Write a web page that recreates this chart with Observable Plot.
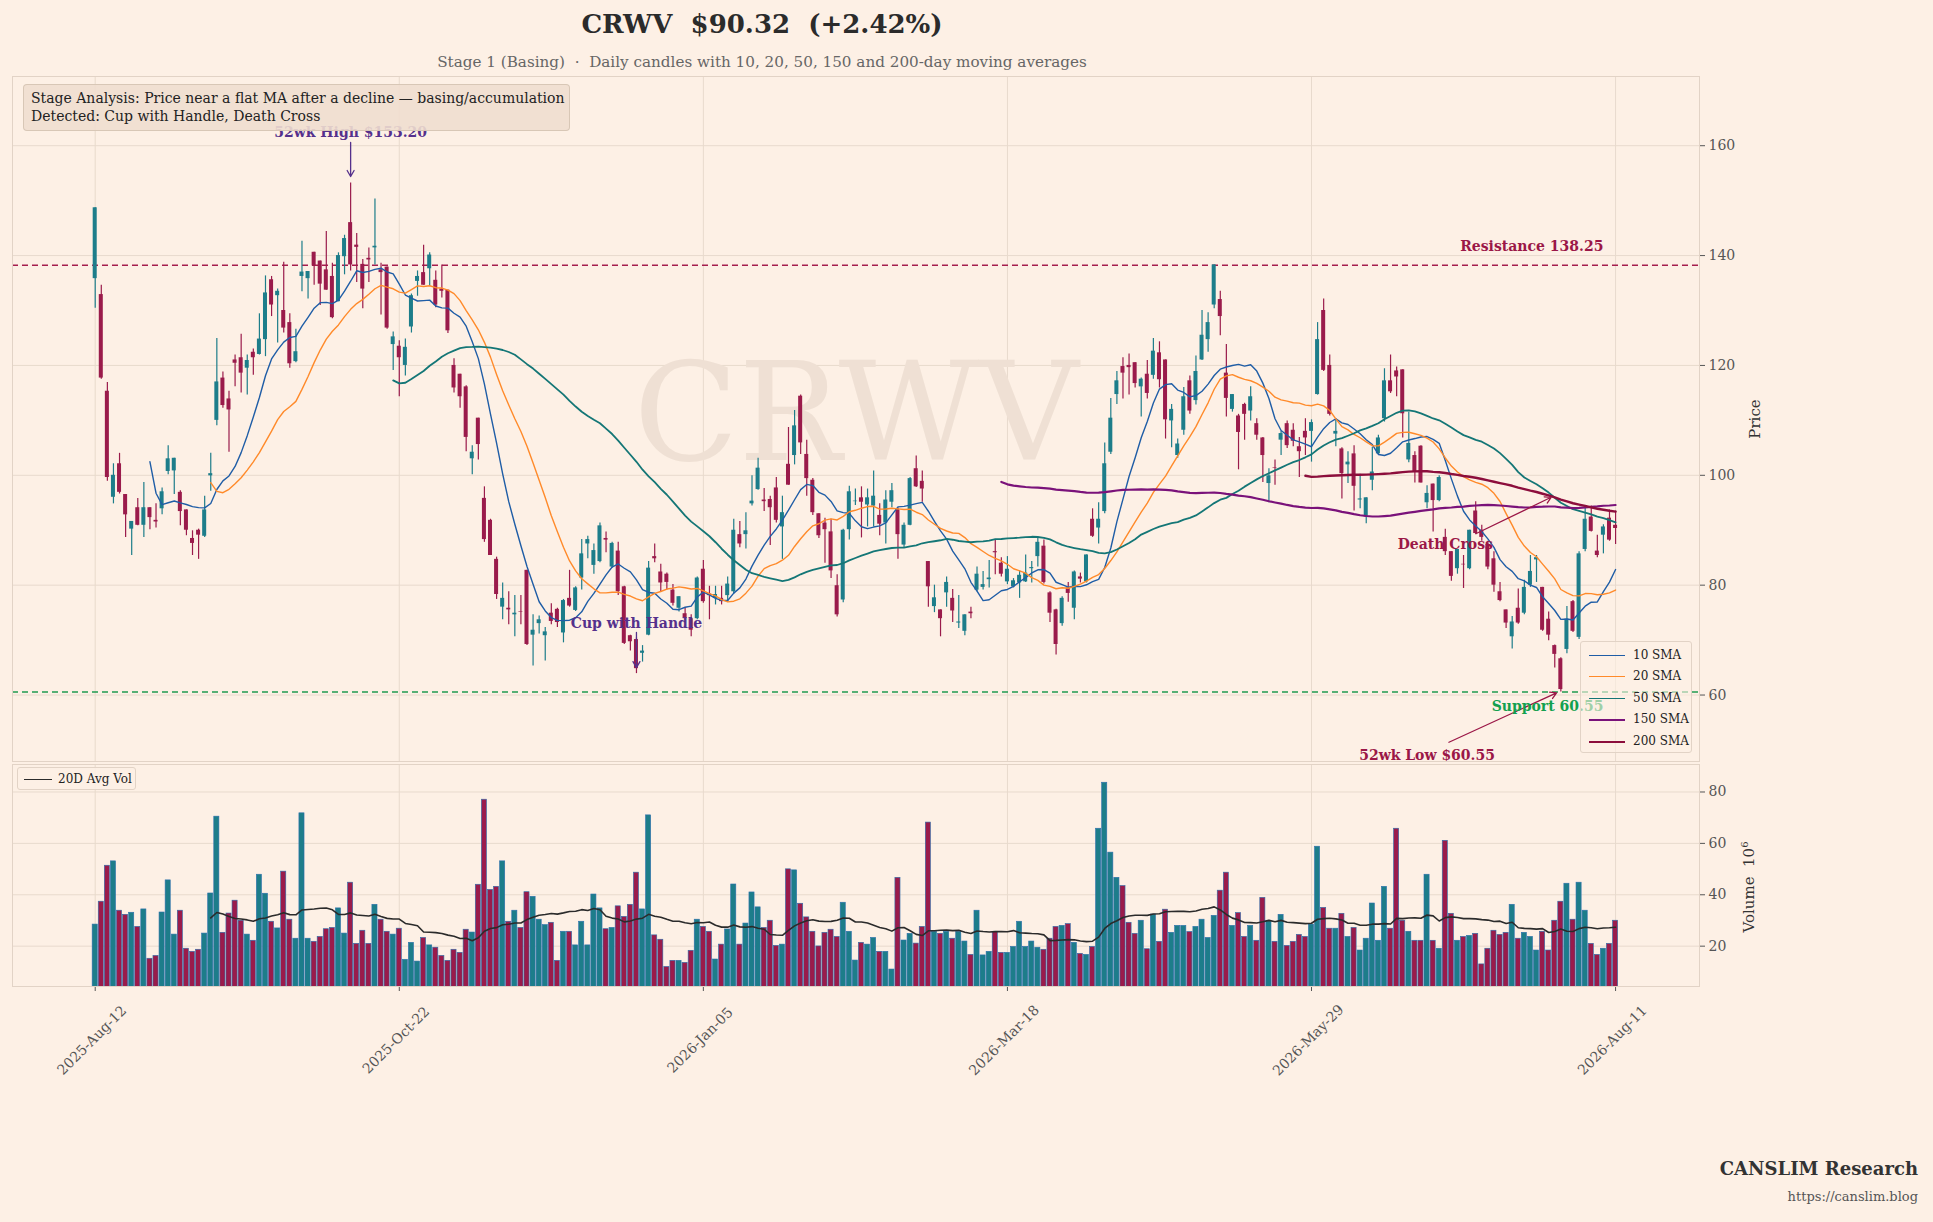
<!DOCTYPE html>
<html><head><meta charset="utf-8">
<script src="https://cdn.jsdelivr.net/npm/d3@7"></script>
<script src="https://cdn.jsdelivr.net/npm/@observablehq/plot@0.6"></script>
<style>
html,body{margin:0;padding:0;background:#fdf0e5;}
#root{position:relative;width:1933px;height:1222px;background:#fdf0e5;font-family:Georgia,"DejaVu Serif",serif;overflow:hidden;}
.abs{position:absolute;white-space:nowrap;}
.svgwrap{position:absolute;left:0;}
.legend{position:absolute;background:rgba(253,240,229,0.6);border:1px solid #e2d3c6;border-radius:3px;box-sizing:border-box;}
.lrow{position:absolute;left:0;right:0;height:20px;}
.lrow .sw{position:absolute;left:8px;width:36px;top:10px;}
.lrow .lt{position:absolute;left:52px;top:2px;font-size:12px;color:#222;line-height:16px;}
</style></head><body><div id="root"></div>
<script>
// ---------------- DATA ----------------
const OPEN = [135.8,132.9,115.3,96.0,102.1,96.5,90.2,94.1,90.9,94.1,
91.8,93.9,100.7,100.8,96.9,93.7,88.5,90.0,88.9,99.9,
110.0,117.7,113.9,121.0,121.4,119.5,122.4,122.0,124.7,135.6,
132.7,130.0,127.8,120.7,136.2,135.8,140.6,139.0,137.4,136.2,
131.6,139.8,146.0,141.9,138.4,139.5,141.4,137.4,137.9,123.8,
123.5,120.0,127.0,135.3,136.9,137.6,135.5,133.9,133.7,120.0,
118.4,116.1,103.0,110.4,95.8,91.8,84.7,76.0,75.8,74.6,
75.2,82.7,70.9,73.0,70.8,74.9,75.6,71.3,77.6,75.4,
81.3,87.5,83.6,84.3,88.5,83.3,86.2,79.7,70.8,70.1,
67.6,70.9,85.2,82.4,82.0,79.1,75.8,74.8,73.9,73.9,
82.9,78.4,77.6,77.6,78.1,78.8,89.2,89.2,94.8,97.4,
95.5,95.6,97.7,90.6,102.0,103.6,114.4,103.8,99.1,93.0,
91.3,89.7,79.9,77.3,90.1,95.2,95.9,94.6,94.4,92.7,
91.3,95.1,93.7,87.3,90.9,101.2,98.9,84.3,76.1,75.5,
78.6,77.6,73.1,71.6,75.1,79.1,79.6,81.0,86.1,84.0,
80.6,79.7,80.4,80.6,83.0,85.2,87.1,78.6,75.5,73.0,
79.5,75.8,81.5,80.6,92.0,90.4,93.4,104.2,114.7,119.8,
120.0,120.5,116.1,118.4,118.2,122.3,121.0,109.9,103.6,108.2,
117.2,113.6,121.0,124.7,131.0,132.0,118.6,112.0,110.8,112.9,
111.7,109.4,106.8,98.5,101.4,106.4,109.4,108.2,105.2,108.0,
108.0,114.7,130.0,120.0,107.5,104.8,101.9,103.9,95.5,92.4,
99.1,103.9,110.3,117.2,119.0,119.2,102.8,103.6,105.3,95.0,
98.4,95.4,88.7,86.1,83.0,83.8,83.0,93.5,90.0,87.4,
84.8,78.8,75.5,70.6,75.8,74.9,80.0,84.6,79.6,73.8,
69.0,66.6,68.3,77.0,70.5,86.5,92.4,86.2,89.1,92.2,
90.9];
const HIGH = [148.7,134.6,116.9,102.1,104.0,96.5,91.6,95.8,98.7,94.1,
94.8,97.7,105.4,103.1,97.2,93.7,89.9,90.2,96.2,104.0,
124.9,118.8,115.3,121.9,125.7,121.9,123.0,129.4,136.3,136.2,
133.9,138.8,129.4,126.6,142.6,137.1,140.6,139.0,144.4,138.6,
140.5,143.7,153.2,144.0,139.3,141.4,150.3,138.6,137.9,126.1,
124.5,124.8,133.0,137.2,141.9,140.5,137.2,138.3,133.7,121.2,
118.4,116.3,105.4,110.4,97.9,92.0,85.1,80.4,78.8,78.1,
78.1,82.7,74.6,74.4,72.3,76.6,75.8,77.4,82.7,79.7,
88.3,88.9,87.5,91.3,89.7,87.8,87.8,79.8,70.9,70.4,
69.0,84.3,87.5,83.8,82.2,80.1,77.9,75.9,74.6,81.5,
84.5,79.8,79.8,79.8,81.5,92.0,91.6,93.2,99.9,103.1,
97.6,96.2,99.6,96.2,108.7,111.8,114.6,106.4,99.4,93.0,
92.2,92.0,81.9,90.2,98.0,97.5,97.9,97.5,100.8,94.8,
97.2,98.5,94.1,91.3,99.6,103.5,100.8,84.3,80.0,75.5,
81.5,79.2,78.1,74.6,76.0,83.3,82.5,84.5,88.3,85.0,
85.2,81.2,82.6,85.5,84.3,88.5,88.2,78.8,75.6,77.9,
80.5,82.6,82.2,85.5,93.9,95.0,105.9,114.0,118.9,121.4,
122.1,120.5,117.7,120.9,124.9,124.3,121.0,112.9,106.6,116.0,
118.1,121.7,130.0,129.6,138.3,133.5,123.8,114.7,111.1,113.1,
116.1,110.3,106.9,101.2,102.8,108.0,109.9,109.4,106.9,110.3,
110.1,127.8,132.1,121.9,110.3,105.0,104.3,105.4,100.2,95.9,
105.1,107.3,119.4,121.9,119.7,119.2,111.5,104.3,105.4,98.1,
98.4,99.9,90.2,86.1,86.5,85.4,90.0,95.2,90.9,88.0,
86.1,80.5,75.5,74.3,79.3,80.9,85.4,85.4,79.6,75.1,
69.1,66.8,76.1,77.2,86.1,94.3,94.4,89.1,91.0,93.7,
93.5];
const LOW = [130.4,117.5,98.9,94.8,96.6,88.7,85.4,90.8,88.7,90.1,
90.4,92.8,100.1,96.5,90.8,89.0,85.4,84.7,88.7,97.1,
109.0,112.2,104.2,116.1,115.0,114.6,118.2,121.9,121.6,128.9,
124.1,125.9,119.5,120.5,133.4,132.1,134.6,130.9,133.7,128.5,
131.6,136.5,137.2,135.1,130.3,135.1,138.3,129.2,126.6,119.1,
114.3,118.1,125.9,132.6,134.6,134.4,130.5,132.3,125.8,115.0,
112.2,104.3,100.1,102.8,87.8,85.4,77.4,73.7,72.8,70.6,
72.8,69.0,65.3,71.1,66.2,72.8,72.3,69.5,76.0,75.2,
79.1,84.8,82.0,84.1,85.9,83.1,78.1,69.2,68.0,63.9,
66.0,70.8,84.1,78.8,79.1,76.2,75.1,73.5,70.6,73.7,
76.7,73.7,76.4,76.4,76.9,78.4,86.8,86.6,94.4,97.3,
93.4,87.2,91.3,84.7,98.2,101.9,103.8,96.2,92.7,88.5,
84.0,81.2,74.2,76.8,88.2,94.5,88.6,90.6,90.6,89.0,
87.5,94.1,84.7,86.8,90.8,97.8,95.1,76.0,75.0,70.6,
76.0,73.2,72.1,70.8,73.9,78.8,79.1,79.5,81.9,81.5,
80.1,79.5,77.6,80.5,80.4,83.3,80.2,73.2,67.3,72.5,
76.9,73.7,80.4,80.4,88.7,87.5,93.0,103.8,112.9,113.9,
114.6,115.9,110.6,113.9,117.5,115.9,106.6,105.0,103.1,107.3,
111.1,112.8,120.9,122.4,130.3,125.4,110.6,111.5,101.0,106.4,
109.9,106.4,98.7,95.0,98.2,103.6,104.9,105.2,99.6,103.6,
102.4,114.6,118.9,110.8,105.2,95.7,98.5,93.5,93.9,91.2,
97.2,103.8,109.7,114.9,114.3,106.8,102.3,98.6,98.6,93.9,
89.7,95.2,85.4,80.7,82.0,79.4,82.8,89.2,88.0,82.8,
78.7,77.0,72.1,68.4,72.9,74.6,79.6,80.5,71.6,69.9,
64.9,60.55,67.5,71.4,70.1,86.1,89.7,85.0,85.7,88.0,
87.4];
const CLOSE = [148.7,117.7,99.6,100.0,96.9,92.8,91.6,90.9,94.1,92.3,
91.5,97.0,103.0,103.1,93.4,90.0,87.6,89.1,93.7,100.3,
117.0,112.7,111.9,120.4,118.6,120.9,121.4,124.8,133.2,131.0,
133.5,126.8,120.3,122.5,137.0,137.1,138.1,134.8,133.7,128.7,
140.0,143.1,138.3,141.5,133.9,139.2,141.7,136.9,126.8,125.2,
121.4,123.3,132.7,136.2,134.6,140.1,131.0,133.5,126.3,115.9,
114.3,106.9,104.2,105.6,88.3,85.4,78.3,77.6,75.5,74.9,
75.1,69.2,71.8,73.7,71.5,73.4,73.2,77.2,76.2,79.5,
85.7,88.3,86.3,90.8,88.2,87.6,78.8,69.4,69.7,64.8,
68.0,83.1,84.8,80.4,80.5,76.7,77.9,73.9,71.8,81.3,
77.0,78.1,78.3,77.0,80.2,90.0,87.5,89.9,95.3,101.3,
95.2,94.1,91.8,93.2,98.2,109.0,105.9,99.4,93.2,89.0,
90.1,82.6,74.6,90.0,97.0,95.3,95.1,95.9,96.2,91.1,
95.5,97.2,89.2,90.9,99.4,97.9,97.5,79.7,77.7,73.9,
80.5,75.3,73.3,74.6,74.8,82.0,80.1,81.3,85.9,82.0,
82.9,80.8,81.8,82.2,83.2,87.8,80.5,74.9,69.2,77.6,
78.5,82.4,81.1,85.5,88.9,92.0,102.1,110.4,117.2,118.6,
119.6,116.7,117.5,114.9,122.6,117.4,110.1,112.0,105.7,114.3,
111.7,118.9,125.5,127.8,138.3,128.9,114.0,114.7,107.8,111.1,
114.3,107.3,103.6,99.9,101.3,107.6,105.4,106.2,104.3,106.8,
109.6,124.7,119.1,111.1,108.0,100.3,102.4,98.0,95.7,95.9,
100.6,106.8,117.2,115.2,117.9,111.2,105.8,100.6,98.6,96.7,
95.4,99.6,86.1,81.6,86.5,83.7,90.0,89.4,88.7,83.3,
80.0,77.2,73.1,73.3,73.1,79.6,82.5,85.0,71.8,70.9,
67.4,61.0,73.8,71.6,85.7,92.0,89.8,85.4,90.6,88.2,
90.32];
// volume in millions
const VOLUME = [28.4,37.3,51.3,53.0,33.8,32.2,33.0,27.5,34.3,15.1,
16.2,33.1,45.6,24.5,33.8,19.0,17.8,18.6,24.9,40.5,
70.4,25.2,32.7,37.7,29.9,24.5,22.1,47.8,40.4,29.5,
26.9,49.0,30.3,22.9,71.7,22.9,21.7,23.6,26.6,27.1,
34.7,24.9,44.7,20.9,26.0,20.9,36.1,30.3,25.6,24.5,
26.8,14.7,21.3,14.0,23.2,20.3,19.4,16.2,14.3,18.6,
17.4,26.4,25.3,43.9,77.0,41.9,43.1,53.0,29.5,33.8,
27.1,41.0,39.2,30.3,28.2,29.1,14.3,25.6,25.6,20.3,
29.5,20.3,40.1,34.7,26.6,27.1,35.5,31.4,36.1,48.6,
34.3,70.9,24.2,22.5,11.9,14.3,14.3,13.5,18.2,30.3,
27.5,25.6,14.8,20.6,26.5,44.0,20.6,28.8,40.9,35.1,
27.1,29.9,20.1,20.6,49.9,49.5,36.5,31.2,25.6,19.9,
25.2,26.4,23.6,36.9,25.6,14.4,21.3,20.6,23.2,17.8,
17.8,10.9,46.6,22.2,24.8,21.0,27.5,68.1,25.6,24.8,
25.6,22.9,25.6,21.8,16.6,33.8,16.4,17.8,25.6,17.4,
17.4,19.7,29.5,19.7,21.8,19.4,18.6,22.9,27.5,27.9,
28.6,21.3,17.0,16.6,19.7,65.7,83.6,56.4,46.6,43.4,
29.1,24.8,29.9,18.8,32.3,21.7,34.2,25.2,27.9,27.9,
25.5,27.5,30.3,23.2,31.8,41.6,48.6,27.9,32.9,23.6,
27.9,22.1,38.8,29.9,21.7,32.2,20.1,21.7,24.4,23.6,
28.4,58.7,34.9,26.8,26.8,32.6,23.6,27.1,18.3,22.9,
36.6,22.1,43.1,26.8,65.7,29.9,25.6,22.1,22.1,47.8,
22.1,19.0,61.0,32.6,22.1,23.6,24.0,24.8,12.9,19.0,
26.0,24.4,25.2,36.1,22.9,25.2,23.6,18.3,25.6,18.3,
29.9,37.3,44.3,30.3,44.7,33.8,20.9,16.6,19.0,20.9,
29.9];
const TICK_IDX = [0, 50, 100, 150, 200, 250];
const TICK_LABELS = ["2025-Aug-12", "2025-Oct-22", "2026-Jan-05", "2026-Mar-18", "2026-May-29", "2026-Aug-11"];
const PRICE_TICKS = [60, 80, 100, 120, 140, 160];
const VOL_TICKS = [20, 40, 60, 80];
const MA_PERIODS = [10, 20, 50, 150, 200];
const MA_LABELS = ["10 SMA", "20 SMA", "50 SMA", "150 SMA", "200 SMA"];
const RESISTANCE = 138.25;
const SUPPORT = 60.55;
const LABEL_TEXT = ["Resistance 138.25", "Support 60.55", "52wk High $153.20", "Cup with Handle", "Death Cross", "52wk Low $60.55"];
const LABEL_X = [248, 248, 42, 89, 222, 219];
const LABEL_Y = [138.25, 60.55, 162.4, 73.0, 87.4, 48.9];
const ARROW_FROM_X = [42, 89, 227.1, 222.6];
const ARROW_FROM_Y = [160.6, 71.4, 89.4, 51.4];
const ARROW_TO_X = [42, 89, 239.4, 240.3];
const ARROW_TO_Y = [154.4, 65.0, 96.0, 60.4];
const TITLE = "CRWV\u00a0\u00a0$90.32\u00a0\u00a0(+2.42%)";
const SUBTITLE = "Stage 1 (Basing)  \u00b7  Daily candles with 10, 20, 50, 150 and 200-day moving averages";
const NOTE_LINES = ["Stage Analysis: Price near a flat MA after a decline \u2014 basing/accumulation", "Detected: Cup with Handle, Death Cross"];
const CREDIT = "CANSLIM Research";
const CREDIT_URL = "https://canslim.blog";

// ---------------- STYLE ----------------
const FONT = "Georgia, 'DejaVu Serif', serif";
const UP = "#1d7d8a", DOWN = "#9a1b4b";
const GRID = "#e8dacd", FRAME = "#e2d3c6";
const MA_COLORS = ["#1f5da6", "#ff8a2a", "#147676", "#7a127a", "#8c0e3c"];
const MA_WIDTHS = [1.4, 1.4, 1.8, 2.2, 2.4];
const LABEL_COLORS = ["#9b1747", "#13a04f", "#55308c", "#55308c", "#9b1747", "#9b1747"];
const LABEL_DY = [-19, 15, 0, 0, 0, 0];
const LABEL_ANCHOR = ["end", "end", "middle", "middle", "middle", "middle"];
const ARROW_COLORS = ["#55308c", "#55308c", "#9b1747", "#9b1747"];

const N = CLOSE.length;
const bars = d3.range(N).map(i => ({i, o: OPEN[i], h: HIGH[i], l: LOW[i], c: CLOSE[i], v: VOLUME[i], col: CLOSE[i] >= OPEN[i] ? UP : DOWN}));
function sma(a, n) { return a.map((_, i) => i < n - 1 ? null : d3.mean(a.slice(i - n + 1, i + 1))); }
const XDOM = [-13.6, 263.8];

const maMarks = MA_PERIODS.map((n, k) => {
  const s = sma(CLOSE, n).map((v, i) => ({i, v})).filter(d => d.v != null);
  return Plot.line(s, {x: "i", y: "v", stroke: MA_COLORS[k], strokeWidth: MA_WIDTHS[k]});
});
const labelMarks = LABEL_TEXT.map((t, k) => Plot.text([{t, x: LABEL_X[k], y: LABEL_Y[k]}], {
  x: "x", y: "y", text: "t", dy: LABEL_DY[k], textAnchor: LABEL_ANCHOR[k], fill: LABEL_COLORS[k],
  fontWeight: "bold", fontSize: 14, fontFamily: FONT, clip: true}));
const arrows = ARROW_FROM_X.map((x1, k) => ({x1, y1: ARROW_FROM_Y[k], x2: ARROW_TO_X[k], y2: ARROW_TO_Y[k], col: ARROW_COLORS[k]}));

const pricePlot = Plot.plot({
  width: 1933, height: 762,
  marginLeft: 12, marginRight: 234, marginTop: 76, marginBottom: 1,
  style: {background: "transparent", fontFamily: FONT, fontSize: "14px", color: "#555"},
  x: {domain: XDOM, axis: null},
  y: {domain: [47.9, 172.6], axis: null},
  color: {type: "identity"},
  marks: [
    Plot.gridX(TICK_IDX, {stroke: GRID, strokeOpacity: 1}),
    Plot.gridY(PRICE_TICKS, {stroke: GRID, strokeOpacity: 1}),
    Plot.text(["CRWV"], {text: d => d, frameAnchor: "middle", dy: -3, fontSize: 137, fill: "#efe0d4", fontFamily: FONT}),
    Plot.ruleY([RESISTANCE], {stroke: "#a51d4e", strokeWidth: 1.6, strokeDasharray: "6,4"}),
    Plot.ruleY([SUPPORT], {stroke: "#1f9a50", strokeWidth: 1.6, strokeDasharray: "6,4"}),
    Plot.ruleX(bars, {x: "i", y1: "l", y2: "h", stroke: "col", strokeWidth: 1.2}),
    Plot.rect(bars, {x1: d => d.i - 0.33, x2: d => d.i + 0.33, y1: d => Math.min(d.o, d.c), y2: d => Math.max(d.o, d.c), fill: "col"}),
    ...maMarks,
    Plot.arrow(arrows, {x1: "x1", y1: "y1", x2: "x2", y2: "y2", stroke: "col", strokeWidth: 1.3, headLength: 8, bend: 0}),
    ...labelMarks,
    Plot.axisY(PRICE_TICKS, {anchor: "right", tickSize: 5, tickPadding: 4, label: null, fontSize: 14}),
    Plot.frame({stroke: FRAME})
  ]
});

const volMa = sma(VOLUME, 20).map((v, i) => ({i, v})).filter(d => d.v != null);
const volPlot = Plot.plot({
  width: 1933, height: 360,
  marginLeft: 12, marginRight: 234, marginTop: 4, marginBottom: 134,
  style: {background: "transparent", fontFamily: FONT, fontSize: "14px", color: "#555"},
  x: {domain: XDOM, axis: null},
  y: {domain: [4.3, 90.7], axis: null},
  color: {type: "identity"},
  marks: [
    Plot.gridX(TICK_IDX, {stroke: GRID, strokeOpacity: 1}),
    Plot.gridY(VOL_TICKS, {stroke: GRID, strokeOpacity: 1}),
    Plot.rect(bars, {x1: d => d.i - 0.42, x2: d => d.i + 0.42, y1: 0, y2: "v", fill: "col", stroke: "#2c6fad", strokeWidth: 0.6, clip: true}),
    Plot.line(volMa, {x: "i", y: "v", stroke: "#2b2b2b", strokeWidth: 1.6}),
    Plot.axisY(VOL_TICKS, {anchor: "right", tickSize: 5, tickPadding: 4, label: null, fontSize: 14}),
    Plot.axisX(TICK_IDX, {anchor: "bottom", tickSize: 5, tickFormat: () => "", label: null}),
    Plot.text(TICK_IDX, {x: d => d, frameAnchor: "bottom", text: (d, i) => TICK_LABELS[i], rotate: -45, dy: 57, fontSize: 14, fill: "#555", fontFamily: FONT}),
    Plot.frame({stroke: FRAME})
  ]
});

const root = document.getElementById("root");
function wrap(node, top) { const d = document.createElement("div"); d.className = "svgwrap"; d.style.top = top + "px"; d.appendChild(node); root.appendChild(d); return d; }
function el(cls, css, html) { const d = document.createElement("div"); d.className = cls; Object.assign(d.style, css); if (html != null) d.textContent = html; root.appendChild(d); return d; }
wrap(volPlot, 760);
wrap(pricePlot, 0);

// title & subtitle
el("abs", {left: "0px", width: "1524px", top: "9px", textAlign: "center", fontSize: "26px", fontWeight: "bold", color: "#2b2b2b", lineHeight: "30px"}, TITLE);
el("abs", {left: "0px", width: "1524px", top: "54px", textAlign: "center", fontSize: "15.2px", color: "#666", lineHeight: "17px", whiteSpace: "pre"}, SUBTITLE);

// stage analysis note
const note = el("abs", {left: "23px", top: "84px", width: "547px", height: "47px", boxSizing: "border-box", background: "rgba(239,222,207,0.9)", border: "1px solid rgba(214,196,180,0.9)", borderRadius: "4px", padding: "5px 7px", fontSize: "14px", lineHeight: "17.5px", color: "#222"});
NOTE_LINES.forEach(t => { const r = document.createElement("div"); r.textContent = t; note.appendChild(r); });

// price legend
const leg = el("legend", {left: "1580px", top: "641px", width: "112px", height: "112px"});
MA_LABELS.forEach((t, k) => {
  const r = document.createElement("div"); r.className = "lrow"; r.style.top = (3 + k * 21.4) + "px";
  const sw = document.createElement("div"); sw.className = "sw"; sw.style.borderTop = MA_WIDTHS[k] + "px solid " + MA_COLORS[k];
  const lt = document.createElement("div"); lt.className = "lt"; lt.textContent = t;
  r.appendChild(sw); r.appendChild(lt); leg.appendChild(r);
});
// volume legend
const vleg = el("legend", {left: "17px", top: "767px", width: "119px", height: "23px", background: "rgba(253,240,229,0.85)"});
{
  const r = document.createElement("div"); r.className = "lrow"; r.style.top = "1px";
  const sw = document.createElement("div"); sw.className = "sw"; sw.style.borderTop = "1.6px solid #2b2b2b"; sw.style.width = "28px"; sw.style.left = "6px";
  const lt = document.createElement("div"); lt.className = "lt"; lt.style.left = "40px"; lt.textContent = "20D Avg Vol";
  r.appendChild(sw); r.appendChild(lt); vleg.appendChild(r);
}

// axis labels (right side, rotated)
el("abs", {left: "1755px", top: "419px", transform: "translate(-50%,-50%) rotate(-90deg)", fontSize: "15px", color: "#333"}, "Price");
const vl = el("abs", {left: "1748px", top: "887px", transform: "translate(-50%,-50%) rotate(-90deg)", fontSize: "15px", color: "#333"});
vl.innerHTML = "Volume&nbsp; 10<sup style='font-size:10px'>6</sup>";

// credits
el("abs", {right: "15px", top: "1158px", fontSize: "18px", fontWeight: "bold", color: "#333", textAlign: "right"}, CREDIT);
el("abs", {right: "15px", top: "1189px", fontSize: "13px", color: "#555", textAlign: "right"}, CREDIT_URL);
</script>
</body></html>
